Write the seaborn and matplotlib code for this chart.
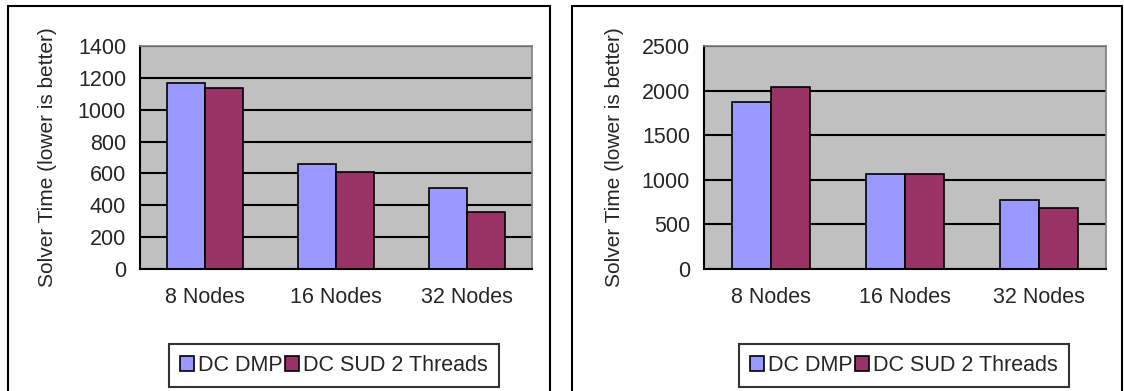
import numpy as np
import pandas as pd
import matplotlib
matplotlib.use("Agg")
import matplotlib.pyplot as plt
import matplotlib.patches as mpatches
import seaborn as sns

# data
nodes = ["8 Nodes", "16 Nodes", "32 Nodes"]
series = ["DC DMP", "DC SUD 2 Threads"]
left_dmp = [1170, 660, 510]
left_sud = [1135, 610, 360]
right_dmp = [1870, 1065, 775]
right_sud = [2045, 1065, 685]
left_ticks = [0, 200, 400, 600, 800, 1000, 1200, 1400]
right_ticks = [0, 500, 1000, 1500, 2000, 2500]

colors = ["#9999FF", "#993366"]

sns.set_style("white")
plt.rcParams["font.family"] = ["Liberation Sans", "DejaVu Sans"]

W, H = 1124, 391
fig = plt.figure(figsize=(W / 100, H / 100), dpi=100)


def px(x0, y0, x1, y1):
    # pixel box -> figure fraction [left, bottom, width, height]
    return [x0 / W, 1 - y1 / H, (x1 - x0) / W, (y1 - y0) / H]


def panel(box, dmp, sud, ticks, ylab_x, leg_box):
    # outer chart frame
    fig.add_artist(mpatches.Rectangle((box[0] / W, -0.02), (box[1] - box[0]) / W,
                                      1 - 6 / H + 0.02, transform=fig.transFigure,
                                      fill=False, edgecolor="black", lw=1.5))
    ax = fig.add_axes(px(box[2], 46, box[3], 269))
    df = pd.DataFrame({"Nodes": nodes * 2,
                       "Series": [series[0]] * 3 + [series[1]] * 3,
                       "Time": dmp + sud})
    ax.set_facecolor("#C0C0C0")
    ax.set_axisbelow(True)
    sns.barplot(data=df, x="Nodes", y="Time", hue="Series", palette=colors,
                width=0.58, edgecolor="black", linewidth=1.2, saturation=1,
                ax=ax, legend=False)
    ax.set_ylim(0, ticks[-1])
    ax.set_yticks(ticks)
    ax.yaxis.grid(True, color="black", lw=1.5)
    ax.set_xlim(-0.5, 2.5)
    ax.set_xticks([-0.5, 0.5, 1.5, 2.5])
    ax.set_xticklabels([])
    ax.set_xticks([0, 1, 2], minor=True)
    ax.set_xticklabels(nodes, minor=True)
    ax.tick_params(axis="x", which="major", length=6, width=1.5, color="black", direction="out")
    ax.tick_params(axis="x", which="minor", length=0, pad=13, labelsize=15.5)
    ax.tick_params(axis="y", length=6, width=1.5, color="black", direction="out",
                   pad=4, labelsize=15.5)
    for s in ["top", "right"]:
        ax.spines[s].set_color("#808080")
        ax.spines[s].set_linewidth(1.2)
    for s in ["left", "bottom"]:
        ax.spines[s].set_color("black")
        ax.spines[s].set_linewidth(1.5)
    ax.set_xlabel("")
    ax.set_ylabel("")
    fig.text(ylab_x / W, 1 - 157.5 / H, "Solver Time (lower is better)", rotation=90,
             ha="center", va="center", fontsize=15)
    handles = [mpatches.Patch(facecolor=c, edgecolor="black", lw=1.2) for c in colors]
    cx = (leg_box[0] + leg_box[1]) / 2 / W
    cy = 1 - 365.5 / H
    leg = fig.legend(handles, series, loc="center", bbox_to_anchor=(cx, cy),
                     ncol=2, fontsize=15.5, handlelength=0.65, handleheight=0.65,
                     handletextpad=0.2, columnspacing=0.1, borderpad=0.5,
                     fancybox=False, frameon=True)
    leg.get_frame().set_edgecolor("black")
    leg.get_frame().set_linewidth(1.5)
    return ax


panel((8, 550, 140, 532), left_dmp, left_sud, left_ticks, 48, (172, 496))
panel((572, 1122, 704, 1106), right_dmp, right_sud, right_ticks, 614, (742, 1066))

fig.savefig("out.png", dpi=100)
